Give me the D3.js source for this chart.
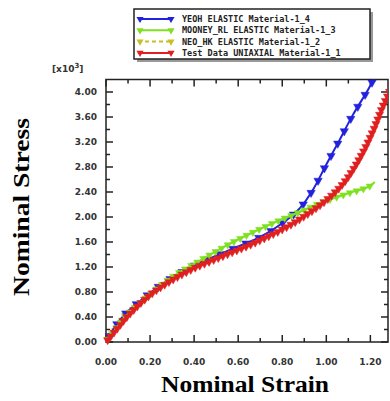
<!DOCTYPE html>
<html>
<head>
<meta charset="utf-8">
<script src="https://cdn.jsdelivr.net/npm/d3@7"></script>
<style>
body { margin: 0; background: #fff; }
svg { display: block; }
</style>
</head>
<body>
<div id="chart"></div>
<script>
// curve data (strain, stress x10^3)
var blueData = [[0,0],[0.04,0.24],[0.09,0.46],[0.16,0.67],[0.26,0.94],[0.41,1.24],[0.56,1.47],[0.70,1.68],[0.80,1.90],[0.88,2.14],[0.94,2.44],[1.0,2.84],[1.06,3.23],[1.12,3.63],[1.19,4.04],[1.23,4.3]];
var greenData = [[0,0],[0.05,0.24],[0.1,0.45],[0.2,0.76],[0.30,1.04],[0.43,1.31],[0.55,1.55],[0.67,1.76],[0.79,1.95],[0.88,2.08],[0.97,2.22],[1.10,2.38],[1.19,2.48],[1.22,2.56]];
var yellowData = [[0,0],[0.03,0.14],[0.06,0.3],[0.09,0.46]];
var redData = [[0,0],[0.05,0.21],[0.1,0.42],[0.21,0.78],[0.37,1.13],[0.52,1.36],[0.67,1.58],[0.82,1.84],[0.92,2.06],[1.0,2.27],[1.08,2.55],[1.15,2.93],[1.21,3.36],[1.26,3.8],[1.3,4.1]];
var xTicks = [0, 0.2, 0.4, 0.6, 0.8, 1.0, 1.2];
var yTicks = [0, 0.4, 0.8, 1.2, 1.6, 2.0, 2.4, 2.8, 3.2, 3.6, 4.0];
var legendNames = ["YEOH ELASTIC Material-1_4", "MOONEY_RL ELASTIC Material-1_3", "NEO_HK ELASTIC Material-1_2", "Test Data UNIAXIAL Material-1_1"];
var legendColors = ["#2222dd", "#7fe020", "#c8c020", "#e02020"];

var svg = d3.select("#chart").append("svg")
  .attr("width", 390)
  .attr("height", 401);

var x = d3.scaleLinear().domain([0, 1.28]).range([106, 388]);
var y = d3.scaleLinear().domain([0, 4.2]).range([342, 79.5]);

svg.append("clipPath").attr("id", "clip")
  .append("rect").attr("x", 100).attr("y", 79.5).attr("width", 288).attr("height", 270);

// frame
svg.append("rect")
  .attr("x", x(0)).attr("y", y(4.2))
  .attr("width", x(1.28) - x(0)).attr("height", y(0) - y(4.2))
  .style("fill", "none").style("stroke", "#222").style("stroke-width", 1.5);

var minorX = d3.range(0, 1.28, 0.1);
var minorY = d3.range(0, 4.2, 0.2);

// ticks on all sides, pointing inward
svg.selectAll(".xtb").data(minorX).enter().append("line")
  .attr("x1", function(d) { return x(d); }).attr("x2", function(d) { return x(d); })
  .attr("y1", y(0)).attr("y2", function(d, i) { return y(0) - (i % 2 == 0 ? 7 : 4); })
  .style("stroke", "#222").style("stroke-width", 1.5);
svg.selectAll(".xtt").data(minorX).enter().append("line")
  .attr("x1", function(d) { return x(d); }).attr("x2", function(d) { return x(d); })
  .attr("y1", y(4.2)).attr("y2", function(d, i) { return y(4.2) + (i % 2 == 0 ? 7 : 4); })
  .style("stroke", "#222").style("stroke-width", 1.5);
svg.selectAll(".ytl").data(minorY).enter().append("line")
  .attr("x1", x(0)).attr("x2", function(d, i) { return x(0) + (i % 2 == 0 ? 7 : 4); })
  .attr("y1", function(d) { return y(d); }).attr("y2", function(d) { return y(d); })
  .style("stroke", "#222").style("stroke-width", 1.5);
svg.selectAll(".ytr").data(minorY).enter().append("line")
  .attr("x1", x(1.28)).attr("x2", function(d, i) { return x(1.28) - (i % 2 == 0 ? 7 : 4); })
  .attr("y1", function(d) { return y(d); }).attr("y2", function(d) { return y(d); })
  .style("stroke", "#222").style("stroke-width", 1.5);

// tick labels
svg.selectAll(".xl").data(xTicks).enter().append("text")
  .attr("x", function(d) { return x(d); })
  .attr("y", 365)
  .attr("text-anchor", "middle")
  .style("font-family", "'DejaVu Sans', sans-serif")
  .style("font-weight", "bold")
  .style("font-size", "9px")
  .style("fill", "#333")
  .text(function(d) { return d.toFixed(2); });

svg.selectAll(".yl").data(yTicks).enter().append("text")
  .attr("x", 97)
  .attr("y", function(d) { return y(d) + 3; })
  .attr("text-anchor", "end")
  .style("font-family", "'DejaVu Sans', sans-serif")
  .style("font-weight", "bold")
  .style("font-size", "9px")
  .style("fill", "#333")
  .text(function(d) { return d.toFixed(2); });

var unit = svg.append("text")
  .attr("x", 52).attr("y", 72)
  .style("font-family", "'DejaVu Sans', sans-serif")
  .style("font-weight", "bold")
  .style("font-size", "9px")
  .style("fill", "#333");
unit.append("tspan").text("[x10");
unit.append("tspan").attr("dy", -4).style("font-size", "7px").text("3");
unit.append("tspan").attr("dy", 4).text("]");

// axis titles
svg.append("text")
  .attr("x", 245).attr("y", 392)
  .attr("text-anchor", "middle")
  .attr("textLength", 168)
  .attr("lengthAdjust", "spacingAndGlyphs")
  .style("font-family", "'Liberation Serif', 'Times New Roman', serif")
  .style("font-weight", "bold")
  .style("font-size", "23px")
  .text("Nominal Strain");

svg.append("text")
  .attr("transform", "translate(29,207) rotate(-90)")
  .attr("text-anchor", "middle")
  .attr("textLength", 178)
  .attr("lengthAdjust", "spacingAndGlyphs")
  .style("font-family", "'Liberation Serif', 'Times New Roman', serif")
  .style("font-weight", "bold")
  .style("font-size", "23px")
  .text("Nominal Stress");

var line = d3.line()
  .x(function(d) { return x(d[0]); })
  .y(function(d) { return y(d[1]); })
  .curve(d3.curveCatmullRom.alpha(0.5));

var plot = svg.append("g").attr("clip-path", "url(#clip)");

function drawSeries(data, color, dash, markerEvery, markerSize) {
  var path = plot.append("path")
    .datum(data)
    .attr("d", line)
    .style("fill", "none")
    .style("stroke", color)
    .style("stroke-width", 2)
    .style("stroke-dasharray", dash);
  // markers along the path
  var node = path.node();
  var len = node.getTotalLength();
  var pts = [];
  for (var s = markerEvery / 2; s < len; s += markerEvery) {
    pts.push(node.getPointAtLength(s));
  }
  plot.selectAll(null).data(pts).enter().append("path")
    .attr("d", d3.symbol().type(d3.symbolTriangle).size(markerSize))
    .attr("transform", function(d) { return "translate(" + d.x + "," + d.y + ") rotate(180)"; })
    .style("fill", color)
    .style("stroke", color)
    .style("stroke-width", 0.5);
}

drawSeries(yellowData, legendColors[2], "4,3", 6, 18);
drawSeries(blueData, legendColors[0], null, 14, 30);
drawSeries(greenData, legendColors[1], null, 7, 22);
drawSeries(redData, legendColors[3], null, 5, 28);

// legend
var lg = svg.append("g");
lg.append("rect")
  .attr("x", 137).attr("y", 12).attr("width", 236).attr("height", 50)
  .style("fill", "#999");
lg.append("rect")
  .attr("x", 134).attr("y", 9).attr("width", 236).attr("height", 50)
  .style("fill", "#fff").style("stroke", "#222").style("stroke-width", 1.5);

var rows = lg.selectAll(".row")
  .data(legendNames)
  .enter().append("g")
  .attr("class", "row")
  .attr("transform", function(d, i) { return "translate(0," + (19 + i * 11.3) + ")"; });

rows.append("line")
  .attr("x1", 138).attr("x2", 173)
  .attr("y1", 0).attr("y2", 0)
  .style("stroke", function(d, i) { return legendColors[i]; })
  .style("stroke-width", 2)
  .style("stroke-dasharray", function(d, i) { return i == 2 ? "4,3" : null; });
rows.selectAll(".m").data(function(d, i) { return [[140, i], [171, i]]; })
  .enter().append("path")
  .attr("d", d3.symbol().type(d3.symbolTriangle).size(22))
  .attr("transform", function(d) { return "translate(" + d[0] + ",0) rotate(180)"; })
  .style("fill", function(d) { return legendColors[d[1]]; });

rows.append("text")
  .attr("x", 182).attr("y", 3)
  .style("font-family", "'DejaVu Sans Mono', monospace")
  .style("font-weight", "bold")
  .style("font-size", "8.5px")
  .style("fill", "#222")
  .text(function(d) { return d; });
</script>
</body>
</html>
